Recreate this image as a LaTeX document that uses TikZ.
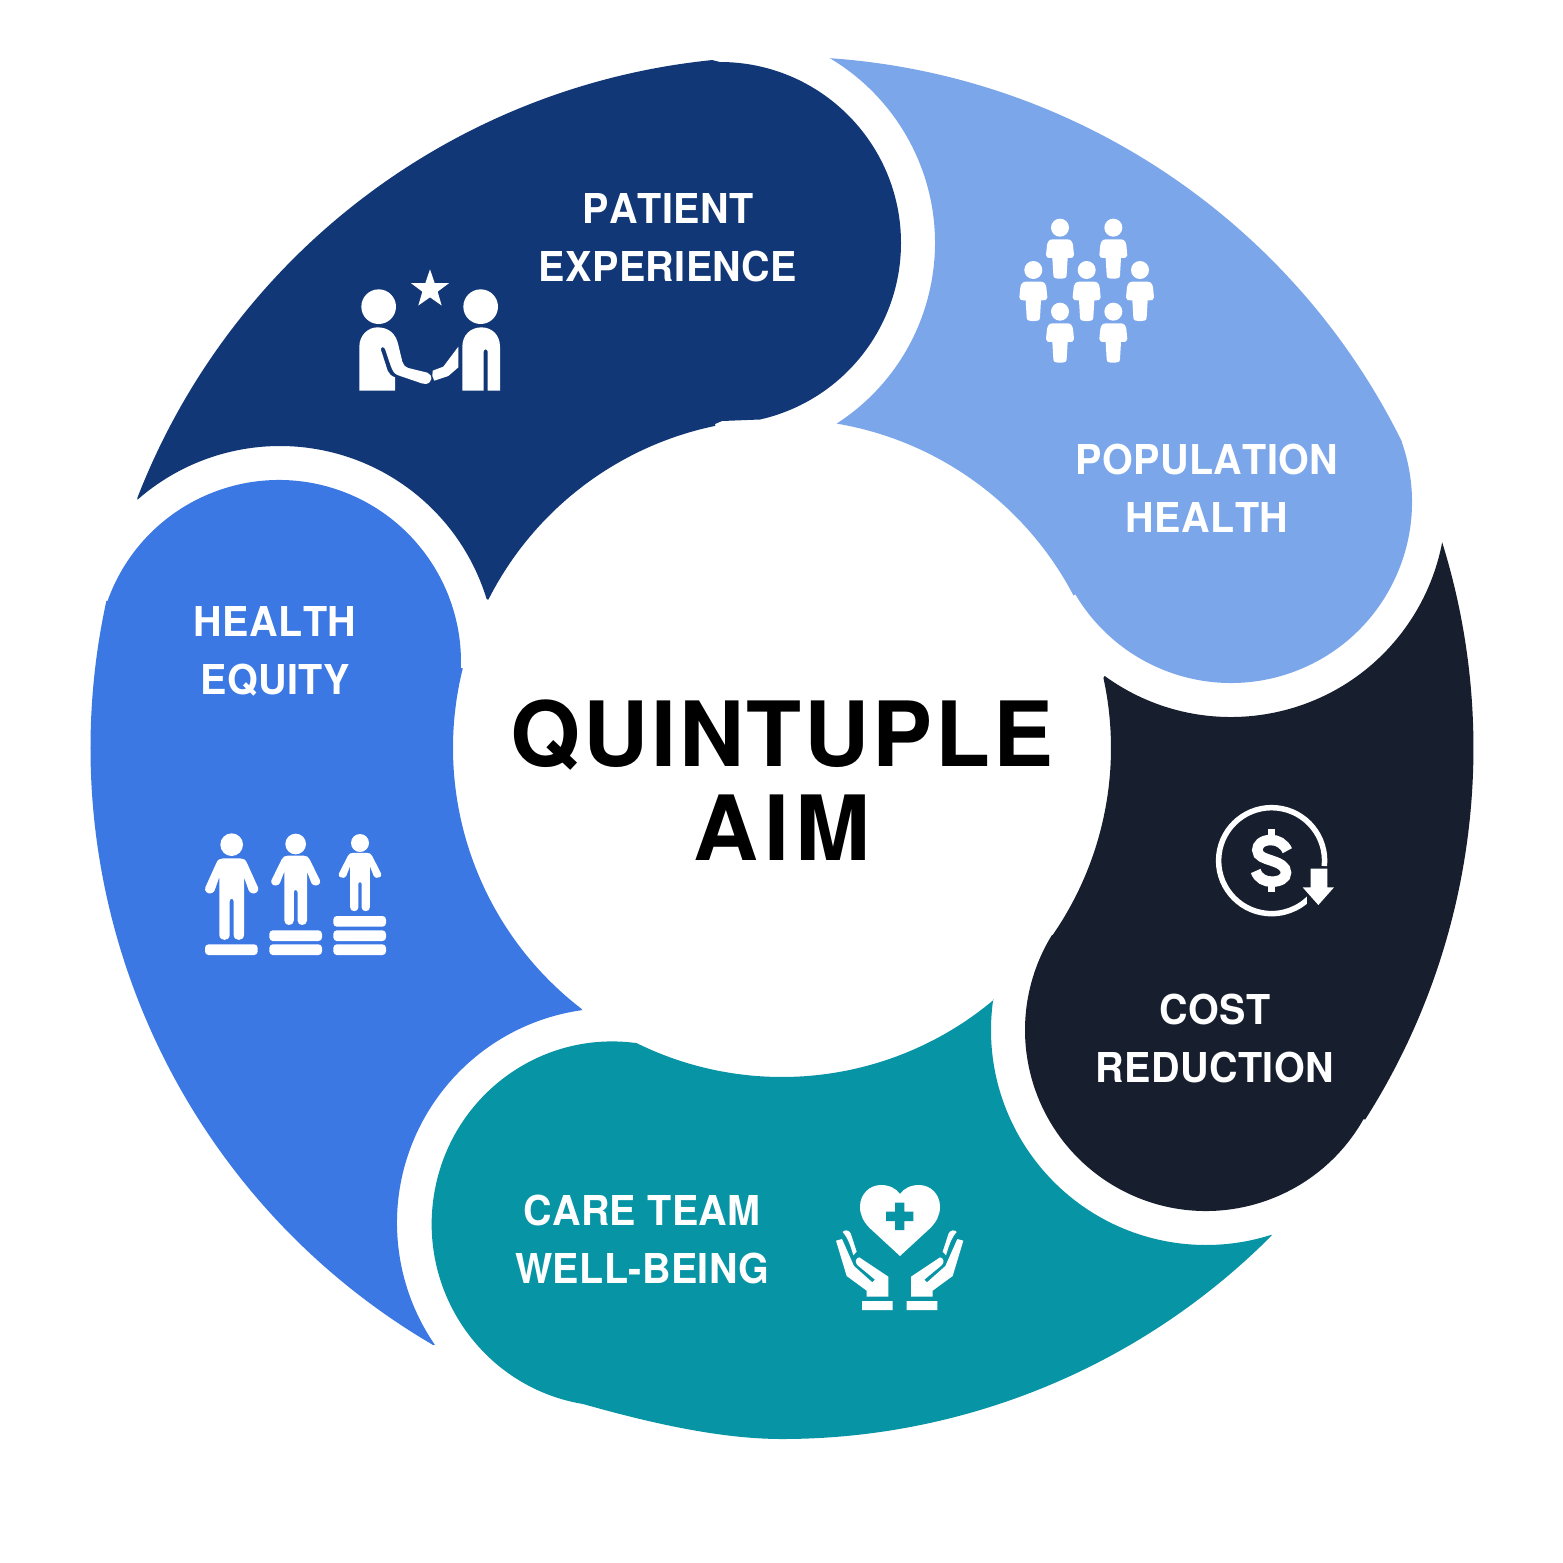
\documentclass[tikz,border=0pt]{standalone}
\usepackage{fontspec}
\newfontfamily\lblfont{TeX Gyre Heros}[Kerning=Off,LetterSpace=1,FakeStretch=0.96]
\newfontfamily\ttlfont{TeX Gyre Heros}[Kerning=Off,LetterSpace=3.3]
\newfontfamily\ttlwide{TeX Gyre Heros}[Kerning=Off,LetterSpace=7]
\definecolor{cnavy}{HTML}{113776}
\definecolor{clight}{HTML}{7BA6EA}
\definecolor{cdark}{HTML}{171F2E}
\definecolor{cteal}{HTML}{0795A5}
\definecolor{cblue}{HTML}{3B78E3}
\newcommand\firstseg[5]{({#1+#3*cos(#4)},{#2+#3*sin(#4)}) arc[start angle=#4,end angle=#5,radius=#3]}
\newcommand\seg[5]{-- ({#1+#3*cos(#4)},{#2+#3*sin(#4)}) arc[start angle=#4,end angle=#5,radius=#3]}
\newcommand\halfhand{(48,212) -- (66,207) -- (102,288) -- (157,337) -- (165,329) -- (112,285) .. controls (103,276) and (108,263) .. (118,262) -- (205,320) -- (205,380) -- (140,380) -- (140,362) -- (80,318) -- cycle
 (68,186) .. controls (72,178) and (88,180) .. (92,190) -- (110,245) -- (100,256) .. controls (92,230) and (85,205) .. (68,186) -- cycle
 (126,393) rectangle (218,420)}
\newcommand\stander{%
 (-25,41) -- (25,41) .. controls (35,41) and (42,45) .. (46,55) -- (79,128) .. controls (83,140) and (72,148) .. (63,146) .. controls (57,145) and (53,142) .. (51,137) -- (37,97) -- (37,270) .. controls (37,291) and (6,291) .. (6,270) -- (6,170) .. controls (6,160) and (-6,160) .. (-6,170) -- (-6,270) .. controls (-6,291) and (-37,291) .. (-37,270) -- (-37,97) -- (-51,137) .. controls (-53,142) and (-57,145) .. (-63,146) .. controls (-72,148) and (-83,140) .. (-79,128) -- (-46,55) .. controls (-42,45) and (-35,41) .. (-25,41) -- cycle}
\tikzset{
 lbl/.style={text=white,align=center,font=\lblfont\bfseries\fontsize{11.7}{16.5}\selectfont},
 ttl/.style={text=black,align=center,font=\ttlfont\bfseries\fontsize{25.6}{26.8}\selectfont},
 ico/.style={fill=white,draw=none},
 stepbar/.style={fill=white,rounded corners=1pt}
}
\begin{document}
\begin{tikzpicture}[x=0.01cm,y=0.01cm,yscale=-1]
\useasboundingbox (0,0) rectangle (1563,1563);
\fill[white] (0,0) rectangle (1563,1563);
% patient experience
\fill[cnavy] \firstseg{782}{748}{691.5}{201.2}{264.2} \seg{720}{243}{181}{-90}{77.2} -- (722,421) -- (715,424) \seg{782}{748}{329}{258.3}{206.8} \seg{280}{662}{216}{-16.9}{-131.3} -- cycle;
% population health
\fill[clight] \firstseg{782}{748}{691.5}{273.97}{333.7} \seg{1231}{502}{181}{-19.5}{149.4} \seg{782}{748}{329}{-27.6}{-80.4} \seg{720}{243}{215}{57.1}{-59.1} -- cycle;
% cost reduction
\fill[cdark] \firstseg{782}{748}{691.5}{-17.3}{32.5} \seg{1206}{1030}{181}{29.5}{211.7} \seg{782}{748}{329}{34.7}{-12.3} \seg{1231}{502}{215}{126}{10.7} -- cycle;
% care team
\fill[cteal] \firstseg{782}{748}{691}{44.9}{90} .. controls (715,1439) and (640,1420) .. (583,1404) arc[start angle=99.3,end angle=277.6,x radius=180.5,y radius=182.5] \seg{782}{748}{329}{116.4}{50} \seg{1206}{1030}{215}{188.3}{72.2} -- cycle;
% health equity
\fill[cblue] \firstseg{782}{748}{691.5}{120.3}{192.3} \seg{279}{662}{182}{199.5}{361.9} \seg{782}{748}{329}{194}{127.5} \seg{612}{1223}{215}{262}{145.5} -- cycle;
% labels
\node[ttl] (title) at (782,780) {QUINTUPLE\\{\ttlwide\bfseries AIM}};
\node[lbl] (patient) at (668,238) {PATIENT\\EXPERIENCE};
\node[lbl] (population) at (1207,488) {POPULATION\\HEALTH};
\node[lbl] (cost) at (1215,1038) {COST\\REDUCTION};
\node[lbl] (care) at (642,1239) {CARE TEAM\\WELL-BEING};
\node[lbl] (equity) at (275,651) {HEALTH\\EQUITY};
% icon: patient
\begin{scope}[shift={(340,250)},scale=1/3]
\fill[ico] (116,170) circle[radius=52];
\fill[ico] (422,170) circle[radius=52];
\fill[ico] (270,58) -- (284,99) -- (327,99.5) -- (293,125) -- (305,166.5) -- (270,142) -- (235,166.5) -- (247,125) -- (213,99.5) -- (256,99) -- cycle;
\fill[ico] (58,422) -- (58,290) .. controls (58,255) and (85,232) .. (112,232) .. controls (145,232) and (168,250) .. (175,285) -- (187,335) .. controls (190,345) and (195,350) .. (205,354) -- (262,368) .. controls (280,375) and (278,398) .. (258,402) .. controls (254,402) and (250,401) .. (245,400) -- (172,375) .. controls (160,369) and (157,360) .. (153,350) -- (135,297) .. controls (132,289) and (120,290) .. (123,300) -- (143,362) .. controls (146,372) and (155,378) .. (165,382) -- (165,422) -- cycle;
\fill[ico] (367,422) -- (367,290) .. controls (367,255) and (392,232) .. (424,232) .. controls (456,232) and (480,255) .. (480,290) -- (480,422) -- (443,422) -- (443,305) .. controls (443,296) and (431,296) .. (431,305) -- (431,422) -- cycle;
\fill[ico] (278,362) -- (310,350) -- (355,290) -- (355,352) -- (325,378) -- (283,392) -- (277,378) -- cycle;
\end{scope}
% icon: population
\begin{scope}[shift={(1000,200)},scale=1/3]
\foreach \px/\py in {180/83,340/83,100/210,260/210,420/210,180/335,340/335}{
\fill[ico,shift={(\px,\py)}] (0,0) circle[radius=27]
 (-22,35) -- (22,35) .. controls (33,35) and (37,42) .. (39,52) -- (42,82) .. controls (43,90) and (36,91) .. (23,91) -- (20,142) .. controls (20,152) and (12,153) .. (5,153) -- (-5,153) .. controls (-12,153) and (-20,152) .. (-20,142) -- (-23,91) .. controls (-36,91) and (-43,90) .. (-42,82) -- (-39,52) .. controls (-37,42) and (-33,35) .. (-22,35) -- cycle;
}
\end{scope}
% icon: cost
\begin{scope}[shift={(1190,790)},scale=1/3]
\draw[white,line width=0.055cm] (403,228) arc[start angle=5.8,end angle=-316,radius=159];
\fill[cdark] (350,290) rectangle (440,352);
\fill[ico] (362,236) -- (412,236) -- (412,292) -- (432,292) -- (385,345) -- (338,292) -- (362,292) -- cycle;
\draw[white,line width=0.105cm] (292,182) .. controls (282,160) and (262,150) .. (243,150) .. controls (215,150) and (202,165) .. (202,180) .. controls (202,200) and (225,205) .. (245,212) .. controls (270,220) and (288,230) .. (288,248) .. controls (288,265) and (270,275) .. (245,275) .. controls (225,275) and (205,266) .. (197,243);
\draw[white,line width=0.075cm] (245,118) -- (245,150) (245,275) -- (245,305);
\end{scope}
% icon: care
\begin{scope}[shift={(820,1170)},scale=1/3]
\fill[ico] (240,72) .. controls (228,55) and (208,45) .. (183,45) .. controls (148,45) and (120,73) .. (120,110) .. controls (120,135) and (130,155) .. (150,175) -- (240,258) -- (330,175) .. controls (350,155) and (360,135) .. (360,110) .. controls (360,73) and (332,45) .. (297,45) .. controls (272,45) and (252,55) .. (240,72) -- cycle;
\fill[cteal] (225,98) rectangle (253,180) (198,125) rectangle (280,153);
\fill[ico] \halfhand;
\begin{scope}[shift={(478,0)},xscale=-1]
\fill[ico] \halfhand;
\end{scope}
\end{scope}
% icon: equity
\begin{scope}[shift={(190,820)},scale=1/3]
\fill[ico] (125,74) circle[radius=34];
\fill[ico] (317,72) circle[radius=31];
\fill[ico] (510,69) circle[radius=27];
\fill[ico,shift={(125,74)}] \stander;
\fill[ico,shift={(317,72)},xscale=0.92,yscale=0.85] \stander;
\fill[ico,shift={(510,69)},xscale=0.8,yscale=0.715] \stander;
\foreach \bx/\by in {45/373,238/331,238/373,430/288,430/331,430/373}{
\fill[stepbar] (\bx,\by) rectangle ++(158,32);
}
\end{scope}
\end{tikzpicture}
\end{document}
